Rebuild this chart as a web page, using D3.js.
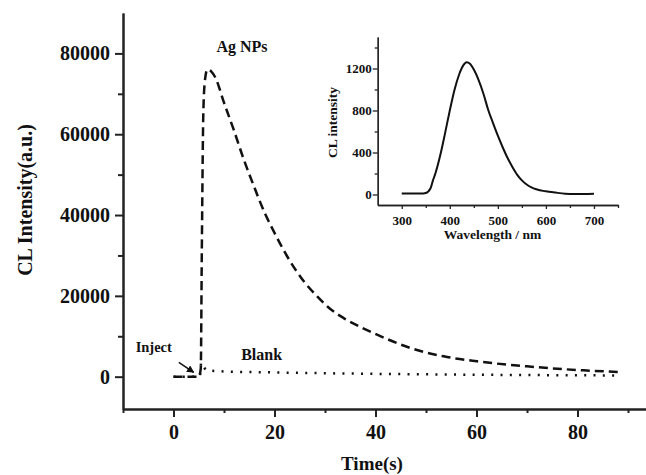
<!DOCTYPE html>
<html>
<head>
<meta charset="utf-8">
<script src="https://cdn.jsdelivr.net/npm/d3@7"></script>
<style>
  body { margin: 0; background: #fff; }
  svg { display: block; }
  text { font-family: "Liberation Serif", "Times New Roman", serif; font-weight: bold; fill: #111; }
</style>
</head>
<body>
<div id="chart"></div>
<script>
// main chart: CL intensity vs time
const agNPs = [
  [0, 0], [5.0, 0], [5.4, 2000], [5.6, 30000], [5.9, 65000], [6.2, 73000], [6.7, 76000],
  [7.5, 75500], [8.3, 74000], [10, 67800], [11.9, 61200], [13.9, 53800], [15.9, 47200],
  [18, 40700], [20, 35600], [22.5, 29800], [25.8, 23600], [28.5, 19800], [31, 16800],
  [33.7, 14500], [37, 12300], [40.3, 10400], [46.9, 7100], [53.5, 5030], [60.1, 3800],
  [70, 2550], [81.2, 1560], [88.5, 1160]
];
const blank = [
  [0, 0], [5.2, 0], [5.5, 3500], [6.5, 1600], [10, 1300], [20, 1050], [30, 850], [40, 700],
  [50, 580], [60, 480], [70, 400], [80, 340], [88.5, 300]
];
const timeTicks = [0, 20, 40, 60, 80];
const timeMinor = [-10, 10, 30, 50, 70, 90];
const clTicks = [0, 20000, 40000, 60000, 80000];
const clMinor = [10000, 30000, 50000, 70000];

// inset: CL spectrum
const spectrum = [
  [300, 10], [340, 10], [350, 15], [360, 60], [365, 134], [370, 200], [381, 390], [390, 580],
  [400, 800], [410, 1000], [420, 1150], [428, 1230], [435, 1260], [442, 1245], [450, 1190],
  [460, 1090], [470, 960], [480, 805], [490, 680], [500, 560], [510, 450], [520, 350],
  [530, 265], [540, 190], [550, 135], [560, 95], [570, 68], [580, 50], [600, 30], [620, 18],
  [640, 8], [660, 5], [700, 8]
];
const waveTicks = [300, 400, 500, 600, 700];
const waveMinor = [350, 450, 550, 650, 750];
const specTicks = [0, 400, 800, 1200];
const specMinor = [200, 600, 1000, 1400];

const W = 646, H = 475;
const svg = d3.select("#chart").append("svg")
  .attr("width", W)
  .attr("height", H);

const x = d3.scaleLinear([-10, 93.56], [123, 646]);
const y = d3.scaleLinear([-8000, 90000], [409, 13]);

function styleAxis(g, width) {
  g.select(".domain").attr("stroke", "#222").attr("stroke-width", width);
  g.selectAll(".tick line").attr("stroke", "#222").attr("stroke-width", width);
}

// main x axis
svg.append("g")
  .attr("transform", `translate(0,${y.range()[0]})`)
  .call(d3.axisBottom(x).tickValues(timeMinor).tickSize(4).tickSizeOuter(0).tickFormat(""))
  .call(g => styleAxis(g, 2));
svg.append("g")
  .attr("transform", `translate(0,${y.range()[0]})`)
  .call(d3.axisBottom(x).tickValues(timeTicks).tickSize(8).tickPadding(8).tickSizeOuter(0))
  .call(g => styleAxis(g, 2))
  .call(g => g.selectAll("text").style("font-size", "20px"));

// main y axis
svg.append("g")
  .attr("transform", `translate(${x.range()[0]},0)`)
  .call(d3.axisLeft(y).tickValues(clMinor).tickSize(5).tickSizeOuter(0).tickFormat(""))
  .call(g => styleAxis(g, 2));
svg.append("g")
  .attr("transform", `translate(${x.range()[0]},0)`)
  .call(d3.axisLeft(y).tickValues(clTicks).tickSize(8).tickPadding(5).tickSizeOuter(0).tickFormat(d3.format("d")))
  .call(g => styleAxis(g, 2))
  .call(g => g.selectAll("text").style("font-size", "20px"));

svg.append("text")
  .attr("transform", "translate(32,200) rotate(-90)")
  .attr("text-anchor", "middle")
  .style("font-size", "20px")
  .text("CL Intensity(a.u.)");

svg.append("text")
  .attr("x", 372)
  .attr("y", 470)
  .attr("text-anchor", "middle")
  .style("font-size", "19px")
  .text("Time(s)");

const line = d3.line()
  .x(d => x(d[0]))
  .y(d => y(d[1]))
  .curve(d3.curveMonotoneX);

svg.append("path")
  .datum(blank)
  .attr("fill", "none")
  .attr("stroke", "#111")
  .attr("stroke-width", 2.5)
  .attr("stroke-dasharray", "2,7.3")
  .attr("d", line);

svg.append("path")
  .datum(agNPs)
  .attr("fill", "none")
  .attr("stroke", "#111")
  .attr("stroke-width", 2.5)
  .attr("stroke-dasharray", "9,5")
  .attr("d", line);

// labels
svg.append("text")
  .attr("x", x(8.5)).attr("y", y(80300))
  .style("font-size", "16px")
  .text("Ag NPs");
svg.append("text")
  .attr("x", x(13.4)).attr("y", y(4040))
  .style("font-size", "16px")
  .text("Blank");
svg.append("text")
  .attr("x", x(-7.5)).attr("y", y(6200))
  .style("font-size", "14.5px")
  .text("Inject");

svg.append("defs").append("marker")
  .attr("id", "arrow")
  .attr("viewBox", "0 0 10 10")
  .attr("refX", 9).attr("refY", 5)
  .attr("markerWidth", 5).attr("markerHeight", 5)
  .attr("orient", "auto")
  .append("path")
  .attr("d", "M0,0L10,5L0,10z")
  .attr("fill", "#111");

svg.append("line")
  .attr("x1", x(1.05)).attr("y1", y(3545))
  .attr("x2", x(4.0)).attr("y2", y(1070))
  .attr("stroke", "#111")
  .attr("stroke-width", 1.5)
  .attr("marker-end", "url(#arrow)");

// inset
const xi = d3.scaleLinear([250, 750], [377.7, 618]);
const yi = d3.scaleLinear([-100, 1500], [205, 37]);

svg.append("g")
  .attr("transform", `translate(0,${yi.range()[0]})`)
  .call(d3.axisBottom(xi).tickValues(waveMinor).tickSize(3).tickSizeOuter(0).tickFormat(""))
  .call(g => styleAxis(g, 1.3));
svg.append("g")
  .attr("transform", `translate(0,${yi.range()[0]})`)
  .call(d3.axisBottom(xi).tickValues(waveTicks).tickSize(4).tickPadding(6.5).tickSizeOuter(0))
  .call(g => styleAxis(g, 1.3))
  .call(g => g.selectAll("text").style("font-size", "13px"));

svg.append("g")
  .attr("transform", `translate(${xi.range()[0]},0)`)
  .call(d3.axisLeft(yi).tickValues(specMinor).tickSize(3).tickSizeOuter(0).tickFormat(""))
  .call(g => styleAxis(g, 1.3));
svg.append("g")
  .attr("transform", `translate(${xi.range()[0]},0)`)
  .call(d3.axisLeft(yi).tickValues(specTicks).tickSize(5).tickPadding(1).tickSizeOuter(0).tickFormat(d3.format("d")))
  .call(g => styleAxis(g, 1.3))
  .call(g => g.selectAll("text").style("font-size", "13px"));

svg.append("text")
  .attr("transform", "translate(337,122.5) rotate(-90)")
  .attr("text-anchor", "middle")
  .style("font-size", "13.5px")
  .text("CL intensity");

svg.append("text")
  .attr("x", 492.5)
  .attr("y", 239)
  .attr("text-anchor", "middle")
  .style("font-size", "13.5px")
  .text("Wavelength / nm");

svg.append("path")
  .datum(spectrum)
  .attr("fill", "none")
  .attr("stroke", "#111")
  .attr("stroke-width", 2)
  .attr("d", d3.line()
    .x(d => xi(d[0]))
    .y(d => yi(d[1]))
    .curve(d3.curveMonotoneX));
</script>
</body>
</html>
